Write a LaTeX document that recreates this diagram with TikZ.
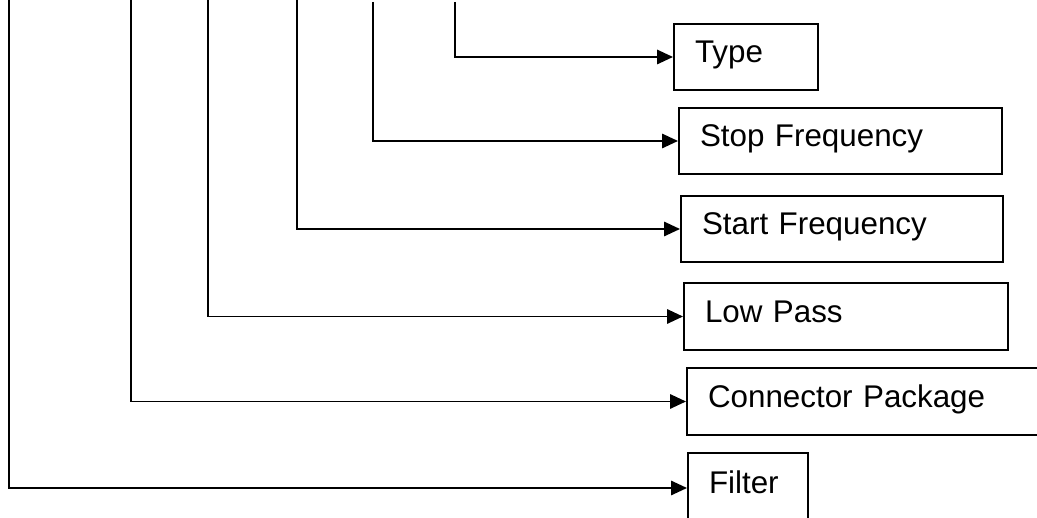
\documentclass[tikz,border=0pt]{standalone}
\usepackage{fontspec}
\setmainfont{Liberation Sans}
\usepackage{tikz}
\usetikzlibrary{arrows.meta}

\begin{document}
\begin{tikzpicture}[x=0.025cm,y=-0.025cm,
  box/.style={draw=black,line width=1.4pt,anchor=north west,align=left,
              inner xsep=0.525cm,inner ysep=0pt,text height=0.86em,text depth=0.02em,
              font=\fontsize{22.3}{26}\selectfont},
  arr/.style={-{Triangle[length=0.4cm,width=0.36cm]},line width=1.4pt,black}]

\clip (0,0) rectangle (1037,518);

% boxes on the right
\node[box,text width=2.55cm,minimum height=1.65cm] (type) at (673,23) {Type};
\node[box,text width=7.025cm,minimum height=1.65cm] (stopf) at (678,107) {Stop Frequency};
\node[box,text width=7cm,minimum height=1.65cm] (startf) at (680,195) {Start Frequency};
\node[box,text width=7.05cm,minimum height=1.675cm] (lowp) at (683,282) {Low Pass};
\node[box,text width=8.2cm,minimum height=1.675cm] (conn) at (686,367) {Connector Package};
\node[box,text width=1.95cm,minimum height=1.75cm] (filt) at (687,452) {Filter};

% upper ends of the stems
\coordinate (s1) at (9,-5);
\coordinate (s2) at (131,-5);
\coordinate (s3) at (208,-5);
\coordinate (s4) at (297,-5);
\coordinate (s5) at (373,2);
\coordinate (s6) at (455,2);

\draw[arr] (s1) |- (filt.west);
\draw[arr] (s2) |- (conn.west);
\draw[arr] (s3) |- (lowp.west);
\draw[arr] (s4) |- (startf.west);
\draw[arr] (s5) |- (stopf.west);
\draw[arr] (s6) |- (type.west);
\end{tikzpicture}
\end{document}
